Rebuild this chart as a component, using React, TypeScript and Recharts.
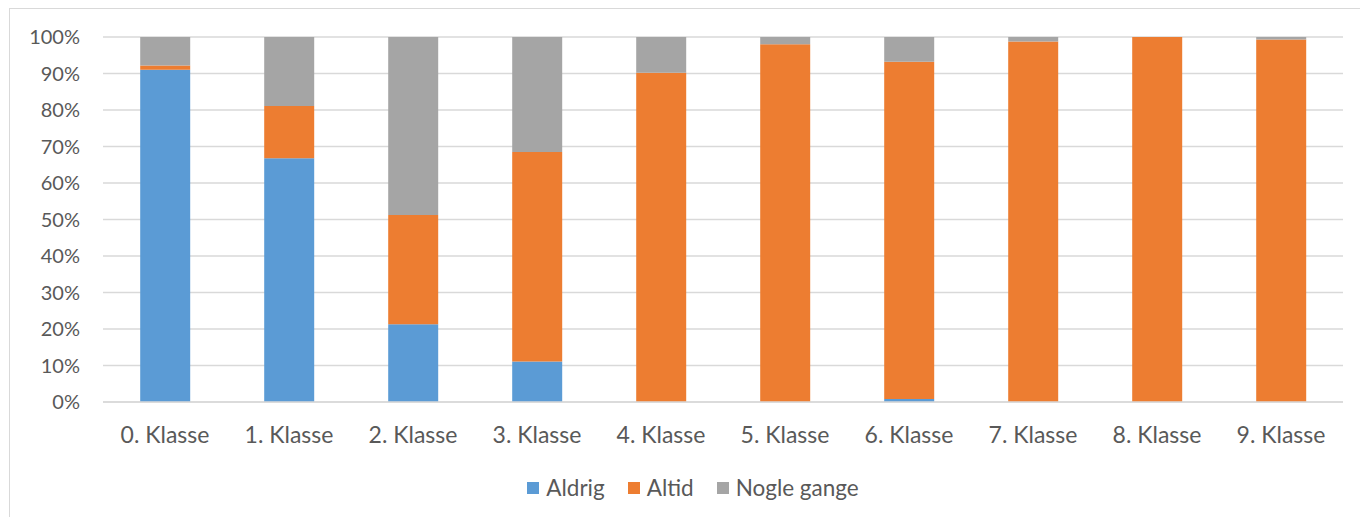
import { BarChart, Bar, XAxis, YAxis, CartesianGrid, Legend } from 'recharts'

// classes on the x axis
const classes = ['0. Klasse', '1. Klasse', '2. Klasse', '3. Klasse', '4. Klasse', '5. Klasse', '6. Klasse', '7. Klasse', '8. Klasse', '9. Klasse']

// share of answers per class, in percent
const aldrig = [91.0, 66.8, 21.3, 11.1, 0, 0, 0.8, 0, 0, 0]
const altid = [1.2, 14.3, 29.9, 57.4, 90.2, 98.0, 92.4, 98.8, 100, 99.3]
const nogleGange = [7.8, 18.9, 48.8, 31.5, 9.8, 2.0, 6.8, 1.2, 0, 0.7]

const yTicks = [0, 10, 20, 30, 40, 50, 60, 70, 80, 90, 100]

const data = classes.map((name, i) => ({
  name,
  Aldrig: aldrig[i],
  Altid: altid[i],
  'Nogle gange': nogleGange[i],
}))

const textColor = '#595959'
const font = 'Lato, "Open Sans", sans-serif'

const LegendContent = (props: any) => {
  const items = props.payload || []
  return (
    <div style={{ display: 'flex', justifyContent: 'center', alignItems: 'center', paddingLeft: 66 }}>
      {items.map((it: any) => (
        <div key={it.value} style={{ display: 'flex', alignItems: 'center', marginRight: 23 }}>
          <span style={{ display: 'inline-block', width: 12, height: 12, background: it.color, marginRight: 7 }} />
          <span style={{ color: textColor, fontSize: 22.5, fontFamily: font, lineHeight: '24px' }}>{it.value}</span>
        </div>
      ))}
    </div>
  )
}

const App = () => {
  return (
    <div style={{ position: 'absolute', left: 0, top: 0, width: 1360, height: 517, background: '#fff', fontFamily: font }}>
      <div
        style={{
          position: 'absolute',
          left: 9,
          top: 8,
          width: 1360,
          height: 520,
          borderLeft: '1px solid #d9d9d9',
          borderTop: '1px solid #d9d9d9',
        }}
      />
      <BarChart
        width={1360}
        height={517}
        data={data}
        margin={{ top: 37, right: 17, left: 0, bottom: 31 }}
        barCategoryGap="30%"
      >
        <CartesianGrid vertical={false} stroke="#d9d9d9" strokeWidth={1.5} />
        <XAxis
          dataKey="name"
          height={60}
          tickLine={false}
          tickSize={0}
          tickMargin={25}
          axisLine={{ stroke: '#d9d9d9', strokeWidth: 1.5 }}
          tick={{ fill: textColor, fontSize: 23, fontFamily: font }}
          interval={0}
        />
        <YAxis
          width={103}
          domain={[0, 100]}
          ticks={yTicks}
          tickFormatter={(v: number) => `${v}%`}
          axisLine={false}
          tickLine={false}
          tickSize={0}
          tickMargin={23}
          tick={{ fill: textColor, fontSize: 20, fontFamily: font }}
        />
        <Legend verticalAlign="bottom" wrapperStyle={{ top: 476 }} content={<LegendContent />} />
        <Bar dataKey="Aldrig" stackId="a" fill="#5B9BD5" isAnimationActive={false} />
        <Bar dataKey="Altid" stackId="a" fill="#ED7D31" isAnimationActive={false} />
        <Bar dataKey="Nogle gange" stackId="a" fill="#A5A5A5" isAnimationActive={false} />
      </BarChart>
    </div>
  )
}

export default App
